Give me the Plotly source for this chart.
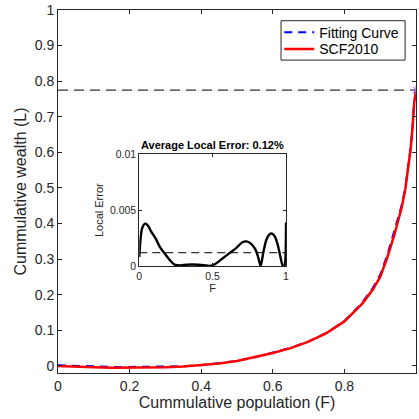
import plotly.graph_objects as go

# Main Lorenz curve data
F = [0, 0.05, 0.1, 0.15, 0.2, 0.25, 0.3, 0.35, 0.4, 0.45, 0.5, 0.55, 0.6, 0.65,
     0.7, 0.75, 0.8, 0.85, 0.88, 0.9, 0.92, 0.94, 0.95, 0.96, 0.97, 0.98, 0.985,
     0.99, 0.995, 1.0]
L_scf = [0, -0.003, -0.004, -0.005, -0.005, -0.005, -0.004, -0.002, 0.002, 0.007,
         0.014, 0.024, 0.036, 0.050, 0.068, 0.092, 0.125, 0.175, 0.215, 0.250,
         0.305, 0.370, 0.405, 0.445, 0.495, 0.565, 0.610, 0.665, 0.740, 0.775]
L_fit = [0.002, 0.0, -0.002, -0.003, -0.003, -0.003, -0.003, -0.001, 0.002, 0.007,
         0.014, 0.024, 0.037, 0.051, 0.069, 0.093, 0.126, 0.178, 0.220, 0.256,
         0.312, 0.378, 0.412, 0.451, 0.500, 0.568, 0.612, 0.666, 0.741, 0.775]
L_total = 0.775

# Inset: local error data
F_err = [0, 0.01, 0.02, 0.04, 0.06, 0.08, 0.11, 0.14, 0.18, 0.21, 0.24, 0.28, 0.32,
         0.36, 0.40, 0.44, 0.48, 0.52, 0.56, 0.61, 0.66, 0.70, 0.73, 0.76, 0.79,
         0.81, 0.827, 0.845, 0.865, 0.885, 0.905, 0.925, 0.945, 0.962, 0.978,
         0.988, 0.995, 1.0]
err = [0.0008, 0.0026, 0.0034, 0.0038, 0.0036, 0.0031, 0.0025, 0.0017, 0.0010,
       0.0005, 0.00012, 0.00005, 0.0001, 0.00012, 0.0001, 0.00006, 0.0,
       0.0002, 0.0006, 0.0011, 0.0016, 0.0021, 0.0022, 0.0020, 0.0015, 0.0008,
       0.0, 0.0012, 0.0023, 0.0028, 0.0029, 0.0026, 0.0018, 0.0008, 0.0,
       0.0, 0.0005, 0.0039]
avg_err = 0.0012

axc = "#262626"
fnt = "Liberation Sans, Arial, sans-serif"

fig = go.Figure()

fig.add_trace(go.Scatter(x=[0, 1], y=[L_total, L_total], mode="lines",
                         line=dict(color="#333333", width=1.2, dash="10px,6px"),
                         showlegend=False, hoverinfo="skip"))
fig.add_trace(go.Scatter(x=F, y=L_fit, mode="lines", name="Fitting Curve",
                         line=dict(color="#0000ff", width=2, dash="8px,6px"),
                         legend="legend"))
fig.add_trace(go.Scatter(x=F, y=L_scf, mode="lines", name="SCF2010",
                         line=dict(color="#ff0000", width=2.5),
                         legend="legend2"))
fig.add_trace(go.Scatter(x=[1], y=[L_total], mode="markers", showlegend=False,
                         marker=dict(symbol="asterisk-open", size=8,
                                     line=dict(color="#0000ff", width=1))))

fig.add_trace(go.Scatter(x=[0, 1], y=[avg_err, avg_err], mode="lines",
                         line=dict(color="#333333", width=1.2, dash="8px,5px"),
                         showlegend=False, xaxis="x2", yaxis="y2"))
fig.add_trace(go.Scatter(x=F_err, y=err, mode="lines",
                         line=dict(color="black", width=2.4, shape="spline",
                                   smoothing=0.8),
                         showlegend=False, xaxis="x2", yaxis="y2"))

leg_common = dict(xanchor="left", yanchor="middle", bgcolor="rgba(0,0,0,0)",
                  borderwidth=0, font=dict(size=14, color="black"), itemwidth=30)

# plot area: x 58..419, y 10..373 (in page pixels)
fig.update_layout(
    width=419, height=419,
    margin=dict(l=58, r=0, t=10, b=46),
    paper_bgcolor="white", plot_bgcolor="white",
    font=dict(family=fnt, color=axc),
    xaxis=dict(range=[0, 1.0], tickvals=[0, 0.2, 0.4, 0.6, 0.8, 1],
               ticktext=["0", "0.2", "0.4", "0.6", "0.8", "1"],
               ticks="inside", ticklen=4, tickcolor=axc,
               showline=True, linecolor=axc, linewidth=1, mirror="ticks",
               showgrid=False, zeroline=False, automargin=False,
               tickfont=dict(size=14, color=axc),
               title=dict(text="Cummulative population (F)", font=dict(size=16, color=axc),
                          standoff=2)),
    yaxis=dict(range=[-0.02, 1], tickvals=[0, 0.1, 0.2, 0.3, 0.4, 0.5, 0.6, 0.7, 0.8, 0.9, 1],
               ticktext=["0", "0.1", "0.2", "0.3", "0.4", "0.5", "0.6", "0.7", "0.8", "0.9", "1"],
               ticks="inside", ticklen=4, tickcolor=axc,
               showline=True, linecolor=axc, linewidth=1, mirror="ticks",
               showgrid=False, zeroline=False, automargin=False,
               tickfont=dict(size=14, color=axc),
               title=dict(text="Cummulative wealth (L)", font=dict(size=16, color=axc),
                          standoff=4)),
    xaxis2=dict(domain=[0.227, 0.637], anchor="y2", range=[0, 1],
                tickvals=[0, 0.5, 1], ticktext=["0", "0.5", "1"],
                ticks="inside", ticklen=3, tickcolor=axc,
                showline=True, linecolor=axc, linewidth=1, mirror="ticks",
                showgrid=False, zeroline=False,
                tickfont=dict(size=10.5, color=axc),
                title=dict(text="F", font=dict(size=11, color=axc), standoff=2)),
    yaxis2=dict(domain=[0.295, 0.602], anchor="x2", range=[0, 0.01],
                tickvals=[0, 0.005, 0.01], ticktext=["0", "0.005", "0.01"],
                ticks="inside", ticklen=3, tickcolor=axc,
                showline=True, linecolor=axc, linewidth=1, mirror="ticks",
                showgrid=False, zeroline=False,
                tickfont=dict(size=10.5, color=axc),
                title=dict(text="Local Error", font=dict(size=11, color=axc), standoff=4)),
    legend=dict(x=0.618, y=0.9375, **leg_common),
    legend2=dict(x=0.618, y=0.8917, **leg_common),
    shapes=[dict(type="rect", xref="paper", yref="paper",
                 x0=0.623, x1=0.9695, y0=0.862, y1=0.9705,
                 line=dict(color=axc, width=1), fillcolor="rgba(0,0,0,0)")],
    annotations=[dict(text="<b>Average Local Error: 0.12%</b>", x=0.432, y=0.606,
                      xref="paper", yref="paper", xanchor="center", yanchor="bottom",
                      showarrow=False, font=dict(size=11, color="black"))],
)

fig.write_html("out.html", config={"displayModeBar": False},
               post_script="document.body.style.margin='0';document.body.style.overflow='hidden';")
